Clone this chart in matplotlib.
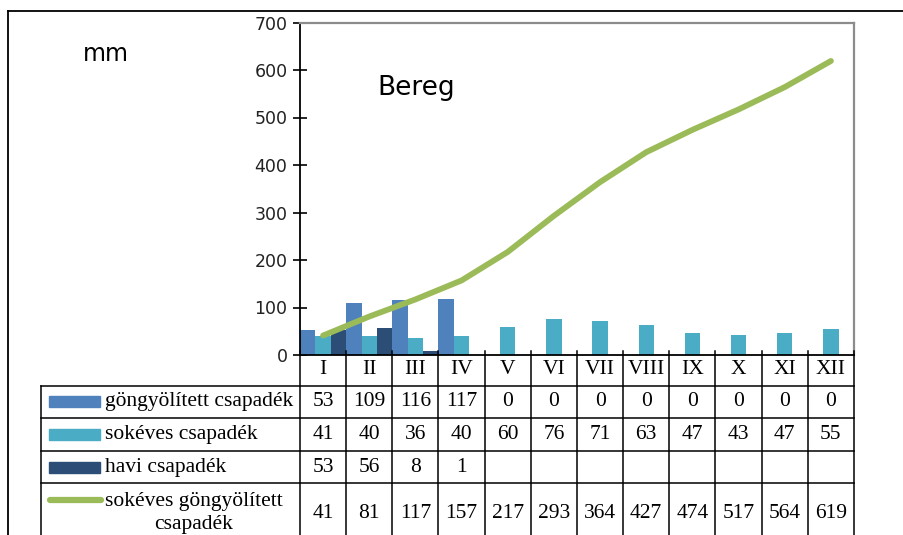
import numpy as np
import matplotlib
matplotlib.use("Agg")
import matplotlib.pyplot as plt
from matplotlib.lines import Line2D
from matplotlib.patches import Rectangle
from matplotlib import transforms

# adatok
honapok = ["I", "II", "III", "IV", "V", "VI", "VII", "VIII", "IX", "X", "XI", "XII"]
gongyolitett = [53, 109, 116, 117, 0, 0, 0, 0, 0, 0, 0, 0]
sokeves = [41, 40, 36, 40, 60, 76, 71, 63, 47, 43, 47, 55]
havi = [53, 56, 8, 1, None, None, None, None, None, None, None, None]
sokeves_gongy = [41, 81, 117, 157, 217, 293, 364, 427, 474, 517, 564, 619]
sor_nevek = ["göngyölített csapadék", "sokéves csapadék", "havi csapadék",
             "sokéves göngyölített\ncsapadék"]

c_gongy = "#4F81BD"
c_sokeves = "#4BACC6"
c_havi = "#2C4D75"
c_vonal = "#9BBB59"

W, H = 904, 535
fx = lambda x: x / W
fy = lambda y: 1 - y / H

fig = plt.figure(figsize=(W / 100, H / 100), dpi=100)
ax = fig.add_axes([fx(300), fy(355), fx(854) - fx(300), fy(22.5) - fy(355)])

x = np.arange(len(honapok))
havi_arr = np.array([np.nan if v is None else v for v in havi], dtype=float)
bw = 1 / 3
ax.bar(x - bw, gongyolitett, width=bw, color=c_gongy, zorder=2)
ax.bar(x, sokeves, width=bw, color=c_sokeves, zorder=2)
ax.bar(x + bw, havi_arr, width=bw, color=c_havi, zorder=2)
ax.plot(x, sokeves_gongy, color=c_vonal, lw=4.2, solid_capstyle="round",
        solid_joinstyle="round", zorder=3)

ax.set_xlim(-0.5, len(honapok) - 0.5)
ax.set_ylim(0, 700)
ax.set_yticks(range(0, 701, 100))
ax.tick_params(axis="y", direction="inout", length=10, width=1.2, pad=4,
               labelsize=12.5, labelcolor="#222222")
ax.set_xticks([])
for s in ["top", "right"]:
    ax.spines[s].set_color("#8c8c8c")
    ax.spines[s].set_linewidth(1.6)
ax.spines["left"].set_linewidth(1.3)
ax.spines["bottom"].set_linewidth(1.3)

fig.text(fx(106), fy(54), "mm", fontsize=17, ha="center", va="center")
ax.text(fx(416), fy(88), "Bereg", fontsize=19, ha="center", va="center",
        transform=fig.transFigure)

# adattabla
tr = transforms.blended_transform_factory(ax.transData, fig.transFigure)
serif = "Liberation Serif"
fs = 15.5
sorok = [355, 386, 417.5, 451, 483.3, 545]
lw = 1.1

for b in np.arange(-0.5, len(honapok), 1.0):
    fig.add_artist(Line2D([b, b], [fy(351), fy(545)], transform=tr, color="black", lw=lw))
fig.add_artist(Line2D([fx(41), fx(41)], [fy(386), fy(545)], transform=fig.transFigure,
                      color="black", lw=lw))
for yy in sorok[1:5]:
    fig.add_artist(Line2D([fx(41), fx(854)], [fy(yy), fy(yy)], transform=fig.transFigure,
                          color="black", lw=lw))

ymid = lambda i: fy((sorok[i] + sorok[i + 1]) / 2)
for i, h in enumerate(honapok):
    fig.text(i, ymid(0) + 0.002, h, transform=tr, ha="center", va="center",
             family=serif, fontsize=fs)
ertek_sorok = [gongyolitett, sokeves, havi, sokeves_gongy]
for r, vals in enumerate(ertek_sorok):
    yc = fy(513) if r == 3 else ymid(r + 1)
    for i, v in enumerate(vals):
        if v is None:
            continue
        fig.text(i, yc, str(v), transform=tr, ha="center", va="center",
                 family=serif, fontsize=fs)

# jelmagyarazat a tablaban
for r, (nev, col) in enumerate(zip(sor_nevek[:3], [c_gongy, c_sokeves, c_havi])):
    yc = ymid(r + 1)
    fig.add_artist(Rectangle((fx(49), yc - 5.5 / H), fx(100) - fx(49), 11 / H,
                             transform=fig.transFigure, color=col))
    fig.text(fx(105), yc, nev, ha="left", va="center", family=serif, fontsize=fs)
fig.add_artist(Line2D([fx(50), fx(101)], [fy(500), fy(500)], transform=fig.transFigure,
                      color=c_vonal, lw=4.5, solid_capstyle="round"))
fig.text(fx(105), fy(513), sor_nevek[3], ha="left", va="center", family=serif,
         fontsize=fs, multialignment="center", linespacing=1.3)

# kulso keret
fig.add_artist(Line2D([fx(8), fx(8)], [fy(11), 0], transform=fig.transFigure, color="black", lw=1.3))
fig.add_artist(Line2D([fx(8), 1], [fy(11), fy(11)], transform=fig.transFigure, color="black", lw=1.3))

fig.savefig("out.png", dpi=100)
